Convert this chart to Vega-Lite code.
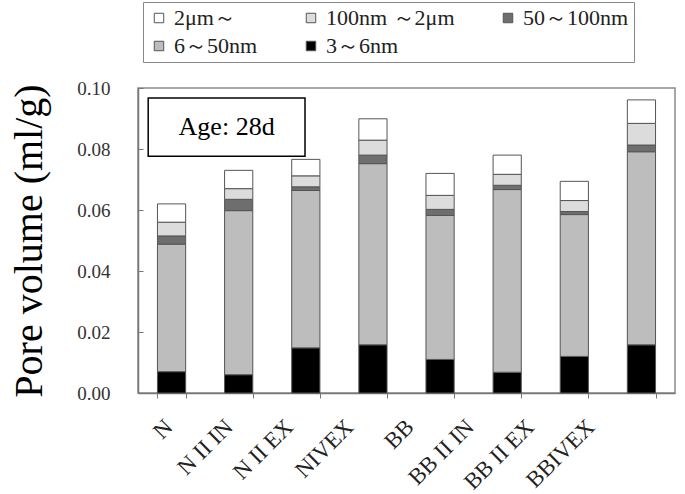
{
  "$schema": "https://vega.github.io/schema/vega-lite/v6.json",
  "width": 537,
  "height": 305,
  "autosize": {"type": "none"},
  "padding": {"left": 138, "top": 88, "right": 10, "bottom": 101},
  "config": {
    "font": "Liberation Serif",
    "view": {"stroke": "#8a8a8a", "strokeWidth": 1.5},
    "axis": {"labelFont": "Liberation Serif", "titleFont": "Liberation Serif", "labelColor": "#333", "domainColor": "#777", "tickColor": "#777"},
    "legend": {"labelFont": "Liberation Serif"}
  },
  "layer": [
    {
      "data": {"values": [
        {"sample": "N", "size": "3～6nm", "lower_nm": 3, "volume": 0.007},
        {"sample": "N", "size": "6～50nm", "lower_nm": 6, "volume": 0.0418},
        {"sample": "N", "size": "50～100nm", "lower_nm": 50, "volume": 0.0027},
        {"sample": "N", "size": "100nm ～2μm", "lower_nm": 100, "volume": 0.0045},
        {"sample": "N", "size": "2μm～", "lower_nm": 2000, "volume": 0.006},
        {"sample": "N II IN", "size": "3～6nm", "lower_nm": 3, "volume": 0.006},
        {"sample": "N II IN", "size": "6～50nm", "lower_nm": 6, "volume": 0.0538},
        {"sample": "N II IN", "size": "50～100nm", "lower_nm": 50, "volume": 0.0037},
        {"sample": "N II IN", "size": "100nm ～2μm", "lower_nm": 100, "volume": 0.0035},
        {"sample": "N II IN", "size": "2μm～", "lower_nm": 2000, "volume": 0.006},
        {"sample": "N II EX", "size": "3～6nm", "lower_nm": 3, "volume": 0.0148},
        {"sample": "N II EX", "size": "6～50nm", "lower_nm": 6, "volume": 0.0516},
        {"sample": "N II EX", "size": "50～100nm", "lower_nm": 50, "volume": 0.0012},
        {"sample": "N II EX", "size": "100nm ～2μm", "lower_nm": 100, "volume": 0.0036},
        {"sample": "N II EX", "size": "2μm～", "lower_nm": 2000, "volume": 0.0054},
        {"sample": "NIVEX", "size": "3～6nm", "lower_nm": 3, "volume": 0.0158},
        {"sample": "NIVEX", "size": "6～50nm", "lower_nm": 6, "volume": 0.0594},
        {"sample": "NIVEX", "size": "50～100nm", "lower_nm": 50, "volume": 0.0028},
        {"sample": "NIVEX", "size": "100nm ～2μm", "lower_nm": 100, "volume": 0.0049},
        {"sample": "NIVEX", "size": "2μm～", "lower_nm": 2000, "volume": 0.007},
        {"sample": "BB", "size": "3～6nm", "lower_nm": 3, "volume": 0.011},
        {"sample": "BB", "size": "6～50nm", "lower_nm": 6, "volume": 0.0472},
        {"sample": "BB", "size": "50～100nm", "lower_nm": 50, "volume": 0.002},
        {"sample": "BB", "size": "100nm ～2μm", "lower_nm": 100, "volume": 0.0046},
        {"sample": "BB", "size": "2μm～", "lower_nm": 2000, "volume": 0.0072},
        {"sample": "BB II IN", "size": "3～6nm", "lower_nm": 3, "volume": 0.0068},
        {"sample": "BB II IN", "size": "6～50nm", "lower_nm": 6, "volume": 0.0599},
        {"sample": "BB II IN", "size": "50～100nm", "lower_nm": 50, "volume": 0.0014},
        {"sample": "BB II IN", "size": "100nm ～2μm", "lower_nm": 100, "volume": 0.0036},
        {"sample": "BB II IN", "size": "2μm～", "lower_nm": 2000, "volume": 0.0063},
        {"sample": "BB II EX", "size": "3～6nm", "lower_nm": 3, "volume": 0.012},
        {"sample": "BB II EX", "size": "6～50nm", "lower_nm": 6, "volume": 0.0465},
        {"sample": "BB II EX", "size": "50～100nm", "lower_nm": 50, "volume": 0.001},
        {"sample": "BB II EX", "size": "100nm ～2μm", "lower_nm": 100, "volume": 0.0036},
        {"sample": "BB II EX", "size": "2μm～", "lower_nm": 2000, "volume": 0.0063},
        {"sample": "BBIVEX", "size": "3～6nm", "lower_nm": 3, "volume": 0.0158},
        {"sample": "BBIVEX", "size": "6～50nm", "lower_nm": 6, "volume": 0.0633},
        {"sample": "BBIVEX", "size": "50～100nm", "lower_nm": 50, "volume": 0.0022},
        {"sample": "BBIVEX", "size": "100nm ～2μm", "lower_nm": 100, "volume": 0.0071},
        {"sample": "BBIVEX", "size": "2μm～", "lower_nm": 2000, "volume": 0.0077}
      ]},
      "mark": {"type": "bar", "stroke": "#555", "strokeWidth": 1},
      "encoding": {
        "x": {
          "field": "sample", "type": "nominal", "sort": null,
          "scale": {"paddingInner": 0.58, "paddingOuter": 0.29},
          "axis": {"title": null, "labelAngle": -45, "labelAlign": "right", "labelBaseline": "middle", "labelFontSize": 23, "labelColor": "#222", "labelPadding": 25, "labelOffset": {"expr": "-3 - 48 * datum.index"}, "tickBand": "extent", "tickSize": 5, "domainWidth": 1.5}
        },
        "y": {
          "aggregate": "sum", "field": "volume", "type": "quantitative", "stack": "zero",
          "scale": {"domain": [0, 0.1], "nice": false},
          "axis": {"title": "Pore volume (ml/g)", "titleFontSize": 40, "titleFontWeight": "normal", "titleColor": "#000", "titlePadding": 27, "values": [0, 0.02, 0.04, 0.06, 0.08, 0.1], "format": ".2f", "labelFontSize": 19, "labelPadding": 33, "tickSize": -5, "grid": false, "domainWidth": 1.5}
        },
        "order": {"field": "lower_nm", "type": "quantitative", "sort": "ascending"},
        "color": {
          "field": "size", "type": "nominal",
          "scale": {"domain": ["2μm～", "100nm ～2μm", "50～100nm", "6～50nm", "3～6nm"], "range": ["#ffffff", "#dcdcdc", "#6e6e6e", "#bdbdbd", "#000000"]},
          "legend": {"title": null, "orient": "none", "legendX": 5, "legendY": -86, "direction": "horizontal", "columns": 3, "symbolType": "square", "symbolSize": 90, "symbolStrokeColor": "#555", "symbolStrokeWidth": 1, "labelFontSize": 22, "labelFont": "Liberation Serif", "labelColor": "#222", "labelLimit": 300, "columnPadding": 42, "rowPadding": 6, "strokeColor": "#888", "padding": 5}
        }
      }
    },
    {
      "data": {"values": [{"x1": 0.019, "x2": 0.311, "y1": 0.0776, "y2": 0.0967, "xm": 0.165, "ym": 0.0871, "label": "Age: 28d"}]},
      "layer": [
        {
          "mark": {"type": "rect", "fill": "#fff", "stroke": "#000", "strokeWidth": 1.5},
          "encoding": {
            "x": {"field": "x1", "type": "quantitative", "scale": {"domain": [0, 1]}, "axis": null},
            "x2": {"field": "x2"},
            "y": {"field": "y1", "type": "quantitative"},
            "y2": {"field": "y2"}
          }
        },
        {
          "mark": {"type": "text", "fontSize": 26, "font": "Liberation Serif", "color": "#000"},
          "encoding": {
            "x": {"field": "xm", "type": "quantitative", "scale": {"domain": [0, 1]}, "axis": null},
            "y": {"field": "ym", "type": "quantitative"},
            "text": {"field": "label"}
          }
        }
      ]
    }
  ],
  "resolve": {"scale": {"x": "independent"}}
}
